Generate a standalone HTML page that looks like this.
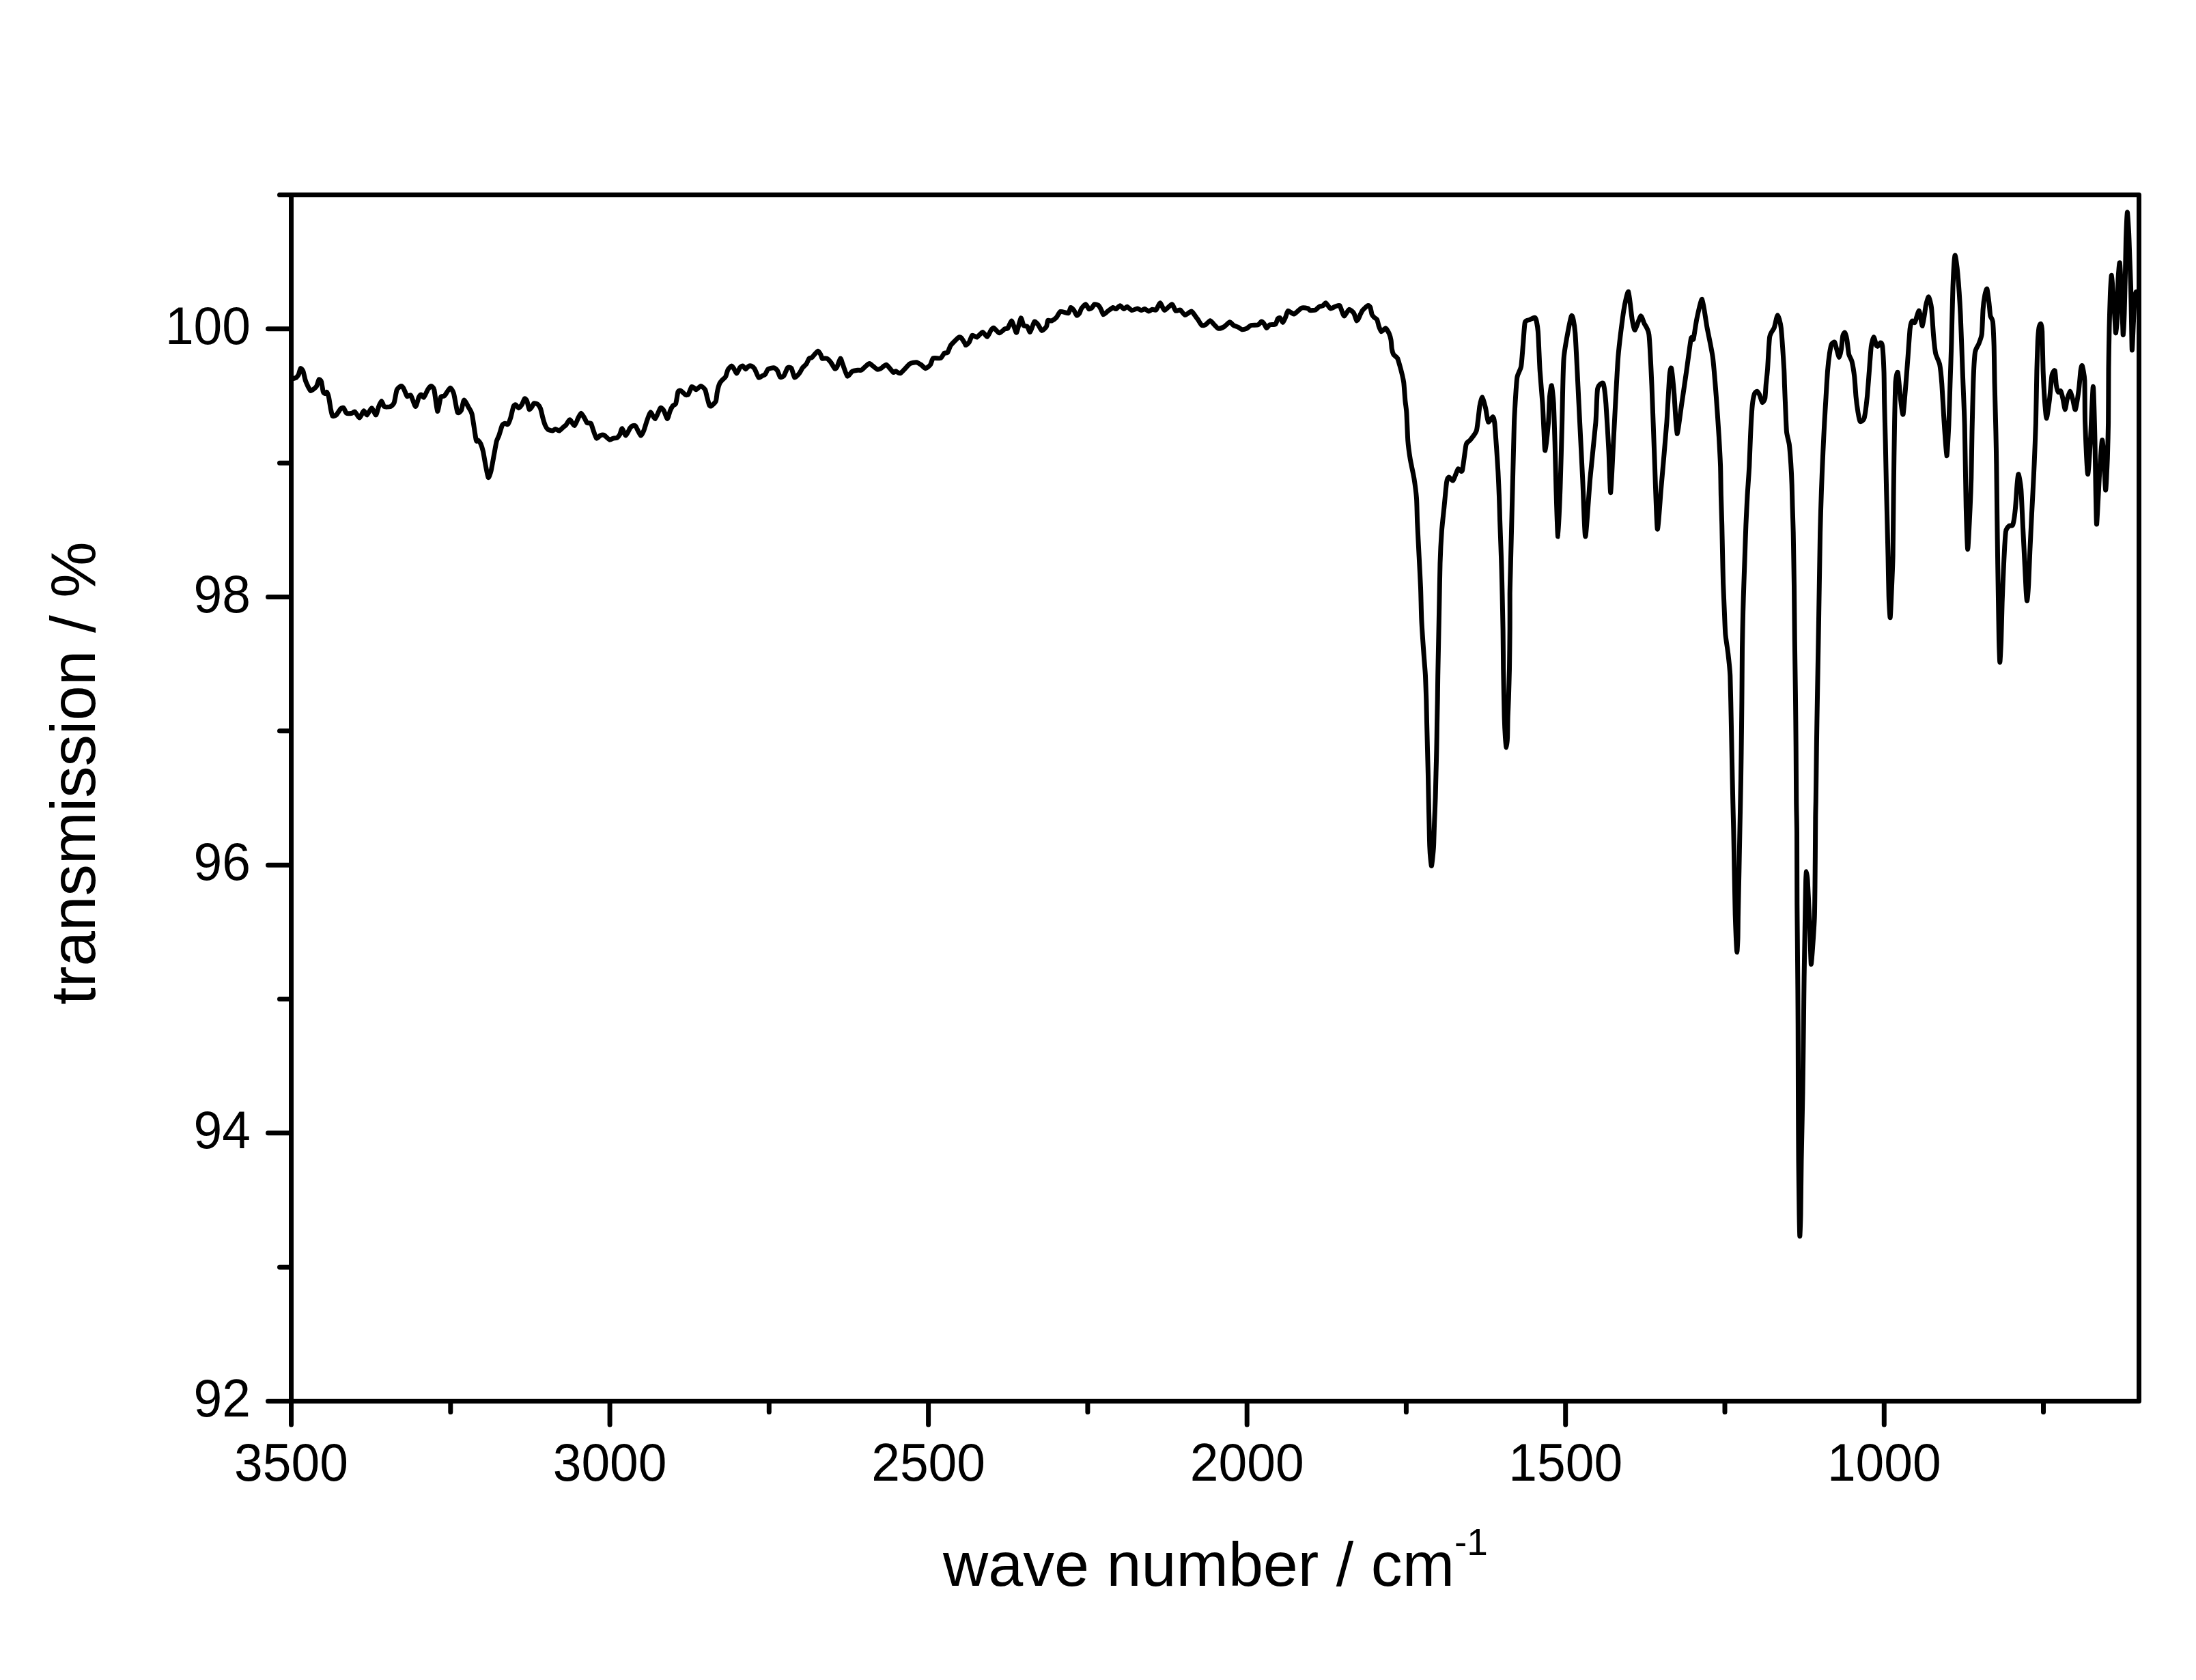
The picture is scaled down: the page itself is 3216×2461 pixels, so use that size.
<!DOCTYPE html><html><head><meta charset="utf-8"><style>html,body{margin:0;padding:0;background:#fff;}svg{display:block;}</style></head><body>
<svg width="3216" height="2461" viewBox="0 0 3216 2461">
<rect x="0" y="0" width="3216" height="2461" fill="#fff"/>
<path d="M429.6 554.6 C430.0 554.5 432.9 553.8 433.7 553.3 C434.4 552.7 436.4 550.5 437.1 549.2 C437.7 547.8 439.5 540.2 440.2 539.6 C440.9 539.1 443.2 541.9 443.9 543.7 C444.6 545.5 446.6 555.1 447.3 557.4 C448.1 559.7 450.7 565.4 451.4 566.9 C452.2 568.4 454.0 572.1 454.8 572.4 C455.7 572.7 458.7 570.4 459.6 569.7 C460.5 569.0 463.0 566.9 463.7 565.6 C464.5 564.2 466.4 556.7 467.1 556.0 C467.8 555.3 469.9 557.0 470.5 558.7 C471.2 560.5 472.7 572.0 473.3 573.8 C473.8 575.5 475.5 576.4 476.0 576.5 C476.6 576.6 478.2 573.9 478.7 574.5 C479.3 575.0 480.9 579.6 481.5 582.0 C482.0 584.4 483.7 595.6 484.2 598.4 C484.8 601.1 486.1 608.3 486.9 609.3 C487.8 610.2 491.2 609.0 492.4 607.9 C493.6 606.8 498.1 599.4 499.2 598.4 C500.3 597.3 502.5 597.0 503.3 597.7 C504.2 598.4 506.2 604.4 507.4 605.2 C508.7 605.9 514.4 605.4 515.6 605.2 C516.9 605.0 518.6 602.5 519.7 603.1 C520.8 603.8 525.3 612.2 526.6 612.0 C527.9 611.9 531.6 602.2 532.7 601.8 C533.8 601.4 536.3 608.3 537.5 607.9 C538.6 607.5 543.0 597.7 544.3 597.7 C545.6 597.7 549.4 608.1 550.5 607.9 C551.5 607.7 553.7 597.7 554.6 595.6 C555.4 593.6 557.8 587.4 558.7 587.4 C559.5 587.4 561.5 594.8 562.8 595.6 C564.1 596.4 570.2 596.2 571.6 595.6 C573.1 595.1 576.1 592.6 577.1 590.2 C578.1 587.7 580.2 573.5 581.2 571.0 C582.2 568.6 586.3 565.7 587.3 565.6 C588.4 565.4 590.6 568.2 591.4 569.7 C592.3 571.2 595.2 579.6 596.2 580.6 C597.3 581.6 600.5 577.7 601.7 579.2 C602.9 580.7 607.4 595.4 608.5 595.6 C609.7 595.9 612.5 583.7 613.3 582.0 C614.1 580.2 616.0 577.9 616.7 577.9 C617.5 577.9 619.9 582.7 620.8 582.0 C621.8 581.3 625.3 572.7 626.3 571.0 C627.3 569.4 630.1 565.6 631.1 565.6 C632.0 565.6 634.9 567.3 635.8 571.0 C636.8 574.7 639.7 601.4 640.6 602.5 C641.6 603.6 644.4 584.2 645.4 582.0 C646.4 579.7 649.5 581.3 650.9 579.9 C652.2 578.6 657.7 568.6 659.1 568.3 C660.4 568.0 663.4 573.0 664.5 576.5 C665.6 580.1 668.9 601.4 670.0 603.8 C671.1 606.3 674.5 602.9 675.5 601.1 C676.4 599.3 678.5 586.5 679.6 586.1 C680.7 585.7 685.2 594.9 686.4 597.0 C687.6 599.0 690.1 601.8 691.2 606.6 C692.3 611.3 696.4 641.0 697.3 644.8 C698.2 648.6 699.3 644.3 700.0 644.8 C700.7 645.4 703.3 648.6 704.1 650.3 C704.8 651.9 706.8 658.2 707.5 661.2 C708.2 664.2 710.2 676.5 710.9 680.3 C711.7 684.2 714.2 698.5 715.0 699.5 C715.8 700.4 718.2 693.4 719.1 689.9 C720.0 686.3 723.1 668.3 723.9 663.9 C724.7 659.6 726.6 648.8 727.3 646.2 C728.0 643.6 729.9 640.3 730.7 638.0 C731.6 635.7 734.6 624.7 735.5 623.0 C736.4 621.2 738.8 620.4 739.6 620.2 C740.4 620.1 742.9 622.4 743.7 621.6 C744.5 620.8 747.0 614.6 747.8 612.0 C748.6 609.4 751.2 597.5 751.9 595.6 C752.7 593.7 754.6 592.7 755.3 592.9 C756.1 593.1 758.5 597.7 759.4 597.7 C760.3 597.7 763.3 594.3 764.2 592.9 C765.1 591.5 767.6 584.6 768.3 584.0 C769.1 583.5 771.0 585.9 771.7 587.4 C772.4 589.0 774.4 598.9 775.1 599.7 C775.9 600.5 778.6 596.5 779.2 595.6 C779.9 594.7 781.1 591.2 782.0 590.8 C782.8 590.5 786.5 591.5 787.4 592.2 C788.4 593.0 790.8 596.4 791.5 598.4 C792.3 600.3 794.3 609.6 794.9 612.0 C795.6 614.5 797.6 621.2 798.4 623.0 C799.1 624.7 801.4 628.3 802.5 629.1 C803.6 629.9 808.2 631.2 809.3 631.1 C810.4 631.1 812.4 628.4 813.4 628.4 C814.3 628.4 817.8 631.4 818.9 631.1 C819.9 630.9 823.3 627.3 824.3 626.4 C825.3 625.5 828.1 623.4 829.1 622.3 C830.1 621.1 833.3 614.6 834.6 614.8 C835.8 614.9 840.2 623.9 841.4 623.6 C842.6 623.4 845.9 613.9 846.9 612.0 C847.8 610.2 850.1 605.2 851.0 605.2 C851.8 605.2 854.8 610.6 855.7 612.0 C856.6 613.5 858.9 618.7 859.8 619.5 C860.8 620.4 864.4 619.2 865.3 620.2 C866.2 621.2 867.9 627.6 868.7 629.8 C869.5 632.0 872.5 641.3 873.5 642.1 C874.5 642.9 877.9 638.5 879.0 638.0 C880.1 637.5 883.1 636.7 884.4 637.3 C885.8 637.9 891.3 643.6 892.6 644.1 C894.0 644.6 897.0 642.3 898.1 642.1 C899.2 641.8 902.6 641.9 903.6 641.4 C904.5 640.8 906.9 638.0 907.7 636.6 C908.4 635.2 910.2 627.6 911.1 627.7 C912.0 627.9 915.4 638.0 916.5 638.0 C917.7 637.9 921.7 628.5 922.7 627.0 C923.7 625.6 926.0 623.9 926.8 623.6 C927.6 623.4 929.7 622.9 930.9 624.3 C932.0 625.8 937.2 637.4 938.4 638.0 C939.6 638.5 942.2 632.1 943.2 629.8 C944.1 627.5 947.0 617.3 948.0 614.8 C948.9 612.2 951.6 604.0 952.7 603.8 C953.9 603.7 958.1 614.0 959.6 613.4 C961.0 612.8 965.8 598.9 967.1 597.7 C968.3 596.4 970.8 599.5 971.9 601.1 C972.9 602.7 976.4 613.3 977.3 613.4 C978.3 613.5 980.6 603.7 981.4 601.8 C982.2 599.9 984.7 595.3 985.5 594.3 C986.3 593.2 988.9 593.6 989.6 591.5 C990.4 589.5 992.3 575.7 993.0 573.8 C993.8 571.9 996.0 571.9 997.1 572.4 C998.2 572.9 1002.8 577.8 1003.9 578.4 C1005.0 578.9 1007.1 578.8 1008.0 577.7 C1008.9 576.5 1012.0 567.7 1012.8 566.7 C1013.6 565.8 1015.5 567.7 1016.2 568.1 C1016.9 568.5 1018.6 571.1 1019.6 570.8 C1020.6 570.6 1025.2 565.4 1026.4 565.4 C1027.7 565.4 1031.7 569.3 1032.6 570.8 C1033.5 572.4 1034.7 578.8 1035.3 581.1 C1035.9 583.3 1038.1 592.0 1038.7 593.4 C1039.4 594.8 1040.5 595.3 1041.5 594.8 C1042.4 594.2 1047.4 590.0 1048.3 587.9 C1049.2 585.9 1049.8 576.9 1050.4 574.3 C1050.9 571.7 1053.0 563.7 1053.8 562.0 C1054.5 560.2 1057.0 557.5 1057.9 556.5 C1058.8 555.5 1061.8 553.2 1062.7 551.7 C1063.5 550.2 1065.2 543.0 1066.1 541.5 C1067.0 539.9 1070.6 536.0 1071.5 536.0 C1072.5 536.0 1074.9 540.4 1075.6 541.5 C1076.4 542.6 1078.2 547.3 1079.0 546.9 C1079.9 546.6 1082.9 539.2 1083.8 538.1 C1084.7 537.0 1087.1 535.7 1087.9 536.0 C1088.7 536.3 1091.2 540.7 1092.0 540.8 C1092.8 540.9 1095.3 537.2 1096.1 536.7 C1096.9 536.2 1099.3 535.7 1100.2 536.0 C1101.1 536.4 1103.9 538.4 1105.0 540.1 C1106.1 541.8 1110.0 552.1 1111.1 553.1 C1112.3 554.1 1115.7 550.8 1116.6 550.4 C1117.6 549.9 1119.9 549.3 1120.7 548.3 C1121.5 547.3 1123.6 541.7 1124.8 540.8 C1126.0 539.8 1131.6 538.5 1133.0 538.7 C1134.4 538.9 1137.5 541.5 1138.5 542.8 C1139.4 544.2 1141.6 551.7 1142.6 552.4 C1143.5 553.2 1146.9 551.7 1148.0 550.4 C1149.1 549.0 1152.4 539.8 1153.5 538.7 C1154.6 537.7 1157.9 538.0 1159.0 539.4 C1160.0 540.9 1162.6 552.3 1163.7 553.1 C1164.9 553.8 1169.4 548.4 1170.6 546.9 C1171.7 545.5 1174.3 540.1 1175.4 538.7 C1176.4 537.4 1179.9 534.6 1180.8 533.3 C1181.8 531.9 1184.1 526.0 1184.9 525.1 C1185.7 524.1 1188.2 524.3 1189.0 523.7 C1189.8 523.1 1192.2 519.9 1193.1 518.9 C1194.0 518.0 1197.0 514.1 1197.9 514.2 C1198.8 514.2 1201.4 518.5 1202.0 519.6 C1202.6 520.7 1203.2 524.5 1204.0 525.1 C1204.9 525.6 1209.6 524.5 1210.9 525.1 C1212.2 525.7 1215.9 529.7 1217.0 531.2 C1218.2 532.7 1221.6 539.5 1222.5 540.1 C1223.4 540.7 1225.1 538.9 1225.9 537.4 C1226.7 535.9 1229.9 525.5 1230.7 525.1 C1231.5 524.7 1233.1 530.7 1234.1 533.3 C1235.1 535.9 1239.6 549.9 1240.9 551.0 C1242.3 552.1 1246.3 545.1 1247.8 544.2 C1249.3 543.3 1254.6 542.4 1256.0 542.2 C1257.3 542.0 1260.2 542.8 1261.4 542.2 C1262.7 541.5 1267.0 537.0 1268.3 536.0 C1269.5 535.1 1272.1 532.1 1273.7 532.6 C1275.3 533.1 1283.0 540.4 1284.6 541.1 C1286.2 541.8 1288.7 540.4 1290.1 539.7 C1291.4 539.0 1296.5 533.7 1298.3 534.3 C1300.0 534.8 1306.4 544.2 1307.8 545.2 C1309.2 546.1 1310.8 543.7 1311.9 543.8 C1313.0 544.0 1316.7 547.7 1318.7 546.6 C1320.8 545.5 1330.1 534.5 1332.4 532.9 C1334.7 531.3 1340.3 530.7 1342.0 530.8 C1343.6 531.0 1347.4 533.4 1348.8 534.3 C1350.2 535.2 1354.3 539.7 1355.6 539.7 C1357.0 539.7 1361.4 535.8 1362.5 534.3 C1363.6 532.8 1365.1 525.7 1366.6 524.7 C1368.1 523.7 1375.8 525.5 1377.5 524.7 C1379.1 523.9 1381.9 518.0 1383.0 517.2 C1384.0 516.4 1386.8 517.7 1387.7 516.5 C1388.7 515.3 1390.9 507.8 1392.5 505.6 C1394.1 503.4 1401.9 495.7 1403.4 494.6 C1404.9 493.6 1406.6 493.8 1407.5 494.6 C1408.5 495.5 1412.3 501.7 1413.0 502.8 C1413.7 503.9 1413.8 505.7 1414.4 505.6 C1415.0 505.4 1418.2 502.9 1419.2 501.5 C1420.1 500.0 1422.8 492.0 1423.9 491.2 C1425.1 490.5 1429.3 494.4 1430.8 494.0 C1432.3 493.5 1437.5 486.5 1439.0 486.4 C1440.5 486.4 1444.6 493.6 1445.8 493.3 C1447.0 493.0 1450.3 485.0 1451.3 483.7 C1452.2 482.4 1454.1 479.9 1455.4 480.3 C1456.6 480.7 1461.9 487.7 1463.6 487.8 C1465.2 488.0 1470.5 482.3 1471.7 481.7 C1473.0 481.0 1474.9 482.1 1475.8 481.0 C1476.8 479.8 1480.4 470.2 1481.3 470.1 C1482.3 469.9 1484.7 477.9 1485.4 479.6 C1486.2 481.3 1487.9 488.5 1488.8 487.1 C1489.8 485.8 1493.9 467.0 1495.0 466.0 C1496.0 464.9 1498.1 475.7 1499.1 476.9 C1500.0 478.1 1503.6 477.3 1504.5 478.3 C1505.5 479.2 1507.6 487.1 1508.6 486.4 C1509.7 485.8 1513.6 472.5 1514.8 471.4 C1515.9 470.3 1519.2 474.2 1520.2 475.5 C1521.3 476.8 1524.5 484.1 1525.7 484.4 C1526.9 484.7 1531.7 479.8 1532.5 478.3 C1533.4 476.7 1533.8 470.2 1534.6 469.4 C1535.3 468.6 1538.8 470.5 1540.1 470.1 C1541.3 469.6 1545.6 466.6 1546.9 465.3 C1548.2 463.9 1551.3 457.0 1553.0 456.4 C1554.8 455.7 1563.1 459.3 1564.6 458.7 C1566.1 458.2 1567.2 451.0 1568.0 450.5 C1568.8 450.1 1571.9 453.5 1572.8 454.6 C1573.7 455.8 1576.1 461.7 1576.9 462.2 C1577.7 462.6 1580.3 459.8 1581.0 458.7 C1581.7 457.7 1582.8 453.2 1583.7 451.9 C1584.6 450.6 1588.8 445.7 1589.9 445.8 C1591.0 445.8 1593.8 452.0 1594.6 452.6 C1595.5 453.1 1597.9 451.9 1598.7 451.2 C1599.6 450.5 1601.9 446.2 1602.8 445.8 C1603.8 445.4 1607.3 446.4 1608.3 447.1 C1609.3 447.9 1611.7 451.9 1612.4 453.3 C1613.2 454.6 1615.0 460.4 1615.8 460.8 C1616.6 461.2 1619.7 458.1 1620.6 457.4 C1621.5 456.7 1623.7 454.6 1624.7 454.0 C1625.7 453.3 1629.2 450.7 1630.2 450.5 C1631.1 450.4 1633.2 452.9 1634.3 452.6 C1635.3 452.3 1639.2 447.8 1640.4 447.8 C1641.6 447.8 1644.8 452.5 1645.9 452.6 C1646.9 452.7 1649.5 449.0 1650.7 449.2 C1651.8 449.4 1656.0 454.4 1657.5 454.6 C1659.0 454.9 1664.3 451.9 1665.7 451.9 C1667.0 451.9 1670.1 454.6 1671.1 454.6 C1672.2 454.7 1675.5 452.5 1676.6 452.6 C1677.7 452.7 1681.0 455.9 1682.1 456.0 C1683.2 456.1 1686.4 453.5 1687.5 453.3 C1688.6 453.1 1691.8 454.9 1693.0 454.0 C1694.2 453.0 1697.9 443.6 1699.2 443.7 C1700.4 443.8 1703.6 454.4 1705.3 454.6 C1707.0 454.8 1714.6 445.7 1716.2 445.8 C1717.9 445.8 1720.5 454.5 1721.7 455.3 C1722.9 456.1 1727.2 453.3 1728.5 454.0 C1729.9 454.6 1733.7 461.3 1735.4 461.5 C1737.0 461.7 1743.4 455.9 1744.9 456.0 C1746.4 456.1 1749.4 461.6 1750.4 462.8 C1751.3 464.1 1753.5 466.9 1754.5 468.3 C1755.4 469.7 1758.9 475.8 1759.9 476.5 C1761.0 477.3 1764.2 476.5 1765.4 475.8 C1766.6 475.1 1771.0 469.7 1772.2 469.7 C1773.5 469.6 1776.5 474.0 1777.7 475.1 C1778.9 476.3 1783.0 480.9 1784.5 481.3 C1786.0 481.6 1791.1 479.5 1792.7 478.6 C1794.4 477.6 1799.6 471.9 1800.9 471.7 C1802.3 471.5 1805.2 475.8 1806.4 476.5 C1807.6 477.3 1812.0 478.6 1813.2 479.2 C1814.5 479.8 1817.5 482.4 1818.7 482.7 C1819.9 482.9 1824.2 481.9 1825.5 481.3 C1826.9 480.7 1830.6 477.0 1832.3 476.5 C1834.1 476.0 1841.0 476.4 1842.5 475.8 C1844.0 475.3 1846.4 471.2 1847.3 471.0 C1848.2 470.9 1850.7 473.5 1851.4 474.5 C1852.2 475.4 1854.0 480.5 1854.8 480.6 C1855.7 480.7 1858.3 476.4 1859.6 475.8 C1860.9 475.3 1866.7 476.0 1867.8 475.1 C1869.0 474.2 1870.5 467.9 1871.2 466.9 C1871.9 466.0 1873.9 465.0 1874.6 465.6 C1875.4 466.1 1877.9 472.5 1878.7 472.4 C1879.6 472.3 1882.1 465.9 1882.8 464.2 C1883.6 462.5 1885.0 455.7 1886.3 455.3 C1887.5 454.9 1893.2 460.5 1895.1 460.1 C1897.1 459.7 1904.0 452.0 1906.1 451.2 C1908.1 450.4 1914.4 451.6 1915.6 451.9 C1916.9 452.3 1917.3 454.4 1918.4 454.6 C1919.5 454.8 1925.2 454.5 1926.6 454.0 C1927.9 453.4 1930.9 449.8 1932.0 449.2 C1933.1 448.6 1936.5 448.4 1937.5 447.8 C1938.4 447.3 1940.5 443.3 1941.6 443.7 C1942.7 444.1 1946.9 451.4 1948.4 451.9 C1949.9 452.4 1955.2 448.9 1956.6 448.5 C1958.0 448.1 1961.1 446.8 1962.1 447.8 C1963.0 448.8 1965.5 457.2 1966.2 458.7 C1966.9 460.2 1968.0 463.4 1968.9 462.8 C1969.9 462.3 1974.4 453.7 1975.7 453.3 C1977.1 452.9 1981.5 457.1 1982.6 458.7 C1983.7 460.4 1985.9 469.0 1986.7 469.7 C1987.4 470.4 1989.4 466.8 1990.0 465.8 C1990.6 464.8 1991.9 461.2 1992.5 460.0 C1993.1 458.8 1994.7 455.4 1995.8 454.2 C1996.9 452.9 2002.2 447.9 2003.3 447.5 C2004.4 447.1 2006.1 448.7 2006.7 450.0 C2007.3 451.3 2008.6 459.3 2009.2 460.8 C2009.8 462.3 2011.8 464.2 2012.5 465.0 C2013.2 465.8 2016.0 467.1 2016.7 468.3 C2017.4 469.6 2018.6 475.8 2019.2 477.5 C2019.8 479.2 2021.9 485.5 2022.9 485.8 C2023.9 486.1 2028.1 480.6 2029.2 480.8 C2030.3 481.1 2033.4 486.6 2034.2 488.3 C2035.0 490.1 2036.7 496.1 2037.1 498.3 C2037.5 500.6 2037.9 508.7 2038.3 510.8 C2038.7 512.9 2040.0 517.8 2040.8 519.2 C2041.6 520.6 2045.8 523.3 2046.7 525.0 C2047.6 526.7 2049.3 533.5 2050.0 535.8 C2050.7 538.1 2052.7 545.8 2053.3 548.3 C2053.9 550.8 2055.3 556.9 2055.8 560.8 C2056.3 564.7 2057.5 582.7 2057.9 587.1 C2058.3 591.5 2059.5 598.6 2059.9 604.4 C2060.3 610.2 2061.3 638.6 2061.8 645.5 C2062.3 652.4 2064.4 667.4 2065.3 672.9 C2066.2 678.4 2069.9 694.6 2070.8 700.3 C2071.7 706.0 2074.0 723.5 2074.5 730.0 C2075.0 736.5 2075.3 757.4 2075.7 765.7 C2076.1 774.0 2077.6 803.8 2078.1 813.3 C2078.6 822.8 2080.1 851.5 2080.5 861.0 C2080.9 870.5 2081.4 898.1 2081.9 908.6 C2082.4 919.1 2085.1 957.6 2085.7 965.7 C2086.3 973.8 2087.2 984.0 2087.5 990.0 C2087.8 996.0 2088.5 1018.6 2088.8 1025.7 C2089.0 1032.8 2089.4 1054.3 2089.6 1061.4 C2089.8 1068.5 2090.3 1089.8 2090.5 1097.0 C2090.7 1104.2 2091.2 1125.7 2091.4 1132.9 C2091.6 1140.1 2091.9 1161.5 2092.1 1168.6 C2092.2 1175.7 2092.7 1197.2 2092.9 1204.3 C2093.1 1211.4 2093.5 1234.6 2093.8 1240.0 C2094.0 1245.4 2094.7 1255.1 2095.0 1258.0 C2095.3 1260.9 2096.1 1268.6 2096.4 1268.6 C2096.7 1268.6 2097.6 1260.9 2097.9 1258.0 C2098.2 1255.1 2099.2 1245.4 2099.5 1240.0 C2099.8 1234.6 2100.4 1211.4 2100.7 1204.3 C2101.0 1197.2 2101.9 1175.7 2102.1 1168.6 C2102.3 1161.5 2102.8 1140.1 2103.0 1132.9 C2103.2 1125.7 2103.8 1104.2 2103.9 1097.0 C2104.1 1089.8 2104.4 1068.5 2104.5 1061.4 C2104.6 1054.3 2105.1 1032.8 2105.2 1025.7 C2105.3 1018.6 2105.4 1004.6 2105.7 990.0 C2106.0 975.4 2107.6 896.5 2107.9 880.0 C2108.2 863.5 2108.7 835.4 2109.0 825.2 C2109.3 815.0 2110.8 785.9 2111.4 777.6 C2112.0 769.3 2114.3 749.0 2115.0 741.9 C2115.7 734.8 2117.9 710.5 2118.6 706.2 C2119.3 701.9 2121.2 699.2 2122.1 699.0 C2123.0 698.8 2126.8 705.0 2128.1 703.8 C2129.4 702.6 2133.9 688.5 2135.2 687.1 C2136.5 685.7 2140.2 693.1 2141.4 689.5 C2142.6 685.9 2145.9 655.9 2147.1 651.4 C2148.2 646.9 2151.4 646.9 2152.9 644.8 C2154.4 642.7 2161.0 635.5 2162.4 630.5 C2163.8 625.5 2166.2 599.2 2167.1 594.3 C2168.0 589.4 2170.1 581.5 2171.0 581.9 C2171.9 582.3 2174.8 594.5 2175.7 598.1 C2176.5 601.7 2178.4 616.9 2179.5 618.1 C2180.6 619.3 2185.3 610.3 2186.2 610.5 C2187.1 610.7 2188.4 615.5 2188.9 620.0 C2189.4 624.5 2191.1 648.6 2191.6 655.7 C2192.1 662.8 2193.5 684.3 2193.9 691.4 C2194.3 698.5 2195.2 719.9 2195.5 727.0 C2195.8 734.1 2196.4 755.7 2196.6 762.9 C2196.8 770.1 2197.7 791.5 2197.9 798.6 C2198.2 805.7 2198.9 827.2 2199.1 834.3 C2199.3 841.4 2199.8 861.1 2200.0 870.0 C2200.2 878.9 2200.9 911.9 2201.1 922.9 C2201.3 933.9 2201.5 967.3 2201.7 980.0 C2201.9 992.7 2202.8 1040.0 2203.1 1050.0 C2203.4 1060.0 2204.2 1075.5 2204.5 1080.0 C2204.8 1084.5 2205.7 1095.0 2206.0 1095.0 C2206.3 1095.0 2207.4 1084.5 2207.6 1080.0 C2207.8 1075.5 2208.0 1055.7 2208.2 1050.0 C2208.4 1044.3 2209.1 1029.9 2209.3 1022.9 C2209.5 1015.9 2210.3 990.3 2210.5 980.0 C2210.7 969.7 2211.1 931.0 2211.2 920.0 C2211.3 909.0 2211.2 878.6 2211.2 870.0 C2211.3 861.4 2211.9 841.4 2212.1 834.3 C2212.3 827.2 2212.8 805.7 2213.0 798.6 C2213.2 791.5 2213.7 770.1 2213.9 762.9 C2214.1 755.7 2214.6 734.1 2214.8 727.0 C2215.0 719.9 2215.5 698.5 2215.7 691.4 C2215.9 684.3 2216.4 662.8 2216.6 655.7 C2216.8 648.6 2217.3 626.5 2217.5 620.0 C2217.7 613.5 2218.6 597.2 2219.0 590.4 C2219.4 583.6 2221.0 557.6 2221.9 552.3 C2222.8 547.0 2226.7 541.9 2227.6 537.1 C2228.5 532.3 2229.9 511.2 2230.5 504.7 C2231.1 498.2 2232.4 475.9 2233.3 472.3 C2234.2 468.7 2238.5 469.2 2240.0 468.5 C2241.5 467.8 2247.3 464.0 2248.5 465.7 C2249.7 467.4 2251.7 478.0 2252.4 485.7 C2253.1 493.4 2254.5 532.3 2255.2 542.8 C2255.9 553.3 2258.4 581.8 2259.0 590.4 C2259.6 599.0 2260.5 621.4 2260.9 628.4 C2261.3 635.4 2262.1 660.9 2262.8 659.9 C2263.5 658.9 2266.9 626.8 2267.6 618.9 C2268.3 611.0 2269.0 586.3 2269.5 580.9 C2270.0 575.5 2271.7 563.8 2272.3 564.7 C2272.9 565.7 2274.7 582.1 2275.2 590.4 C2275.7 598.7 2276.7 634.6 2277.1 647.5 C2277.5 660.4 2278.6 705.9 2279.0 719.8 C2279.4 733.6 2281.0 786.5 2281.6 786.0 C2282.2 785.5 2284.3 731.5 2284.9 714.8 C2285.5 698.1 2287.1 638.2 2287.6 619.0 C2288.1 599.8 2288.9 538.8 2290.3 523.2 C2291.7 507.6 2299.7 466.6 2301.3 463.0 C2303.0 459.4 2305.7 474.7 2306.8 487.6 C2307.9 500.5 2311.1 570.2 2312.2 591.6 C2313.3 613.0 2316.7 681.7 2317.7 701.1 C2318.7 720.5 2320.7 786.0 2321.8 786.0 C2322.9 786.0 2327.2 717.8 2328.7 701.1 C2330.2 684.4 2335.8 632.1 2336.9 619.0 C2338.0 605.9 2338.5 575.5 2339.6 569.7 C2340.7 564.0 2346.6 559.3 2347.8 561.5 C2349.0 563.7 2351.1 581.7 2351.9 591.6 C2352.7 601.5 2355.3 647.1 2356.0 660.1 C2356.7 673.1 2358.1 723.1 2358.8 721.7 C2359.5 720.3 2361.8 666.2 2362.9 646.4 C2364.0 626.5 2368.2 542.4 2369.7 523.2 C2371.2 504.0 2376.4 464.3 2377.9 454.7 C2379.4 445.1 2383.6 426.0 2384.8 427.4 C2386.0 428.8 2389.3 462.8 2390.3 468.4 C2391.3 474.0 2393.2 484.0 2394.4 483.5 C2395.6 483.0 2401.2 464.0 2402.6 463.0 C2404.0 462.0 2406.8 471.2 2408.0 473.9 C2409.2 476.6 2413.8 481.3 2414.9 490.3 C2416.0 499.3 2418.2 545.9 2419.0 564.2 C2419.8 582.5 2422.3 652.6 2423.1 673.7 C2423.9 694.8 2426.2 770.9 2427.2 775.0 C2428.2 779.1 2431.3 730.4 2432.7 714.8 C2434.1 699.2 2439.7 635.4 2440.9 619.0 C2442.1 602.6 2444.3 558.5 2445.0 550.6 C2445.7 542.7 2447.0 536.9 2447.7 539.6 C2448.4 542.3 2451.0 568.3 2451.8 577.9 C2452.6 587.5 2454.9 634.0 2456.0 635.4 C2457.1 636.8 2461.4 600.6 2462.8 591.6 C2464.2 582.6 2468.2 554.7 2469.6 545.1 C2471.0 535.5 2475.5 500.6 2476.5 495.8 C2477.5 491.0 2479.2 499.6 2480.0 496.7 C2480.8 493.8 2483.7 472.5 2485.0 466.7 C2486.3 460.9 2491.2 437.0 2492.7 438.3 C2494.2 439.6 2498.4 471.5 2500.0 480.0 C2501.6 488.5 2507.0 513.3 2508.3 523.3 C2509.6 533.3 2512.4 568.3 2513.3 580.0 C2514.2 591.7 2516.8 629.7 2517.4 640.0 C2518.0 650.3 2519.3 674.3 2519.6 682.9 C2519.9 691.5 2520.2 717.1 2520.4 725.7 C2520.6 734.3 2521.5 760.0 2521.7 768.6 C2521.9 777.2 2522.4 802.8 2522.6 811.4 C2522.8 820.0 2523.3 845.7 2523.6 854.3 C2523.9 862.9 2525.1 889.6 2525.4 897.1 C2525.7 904.6 2526.4 923.3 2526.9 929.3 C2527.4 935.3 2530.0 951.0 2530.7 957.1 C2531.4 963.2 2533.3 979.2 2533.8 990.0 C2534.2 1000.8 2535.2 1050.0 2535.5 1065.0 C2535.8 1080.0 2536.7 1125.0 2537.0 1140.0 C2537.3 1155.0 2538.4 1201.2 2538.8 1215.0 C2539.1 1228.8 2539.8 1265.0 2540.0 1277.5 C2540.2 1290.0 2541.0 1330.2 2541.2 1340.0 C2541.5 1349.8 2542.2 1369.5 2542.5 1375.0 C2542.8 1380.5 2543.5 1395.0 2543.8 1395.0 C2544.0 1395.0 2544.8 1380.5 2545.0 1375.0 C2545.2 1369.5 2545.3 1349.8 2545.5 1340.0 C2545.7 1330.2 2546.5 1290.0 2546.8 1277.5 C2547.0 1265.0 2547.7 1228.8 2548.0 1215.0 C2548.3 1201.2 2549.2 1155.0 2549.5 1140.0 C2549.8 1125.0 2550.3 1080.0 2550.5 1065.0 C2550.7 1050.0 2551.2 1001.5 2551.2 990.0 C2551.3 978.5 2551.4 959.3 2551.5 950.0 C2551.6 940.7 2552.4 906.7 2552.6 897.1 C2552.8 887.5 2553.6 862.9 2553.9 854.3 C2554.2 845.7 2555.1 820.0 2555.4 811.4 C2555.7 802.8 2556.5 777.2 2556.9 768.6 C2557.3 760.0 2558.5 734.3 2559.0 725.7 C2559.5 717.1 2561.4 691.5 2561.8 682.9 C2562.2 674.3 2563.1 648.9 2563.5 640.0 C2563.9 631.1 2565.6 600.5 2566.2 594.2 C2566.8 587.9 2568.6 579.3 2569.3 577.2 C2570.0 575.1 2572.4 573.1 2573.2 573.3 C2574.0 573.4 2576.2 577.1 2577.0 578.7 C2577.8 580.3 2580.1 589.0 2580.9 589.5 C2581.7 590.0 2584.3 585.9 2584.8 583.3 C2585.3 580.7 2585.9 567.5 2586.3 563.2 C2586.7 558.9 2588.1 547.0 2588.6 540.0 C2589.1 533.0 2590.7 499.3 2591.7 493.3 C2592.7 487.3 2597.1 483.2 2598.3 480.0 C2599.5 476.8 2602.3 461.7 2603.3 461.7 C2604.3 461.7 2607.4 472.2 2608.3 480.0 C2609.2 487.8 2612.1 531.7 2612.6 540.0 C2613.1 548.3 2613.2 557.0 2613.4 563.2 C2613.6 569.4 2614.7 594.9 2615.0 601.9 C2615.3 608.9 2616.0 627.9 2616.5 632.9 C2617.0 637.9 2619.8 646.9 2620.4 651.5 C2621.0 656.1 2622.3 673.4 2622.7 679.3 C2623.1 685.2 2624.0 704.1 2624.2 710.3 C2624.4 716.5 2624.8 734.2 2625.0 741.2 C2625.2 748.2 2625.9 768.2 2626.2 780.0 C2626.4 791.8 2627.3 843.0 2627.5 858.7 C2627.7 874.4 2628.1 921.7 2628.3 937.4 C2628.5 953.1 2629.2 1000.3 2629.4 1016.0 C2629.6 1031.7 2630.1 1079.1 2630.2 1094.8 C2630.3 1110.5 2630.6 1160.9 2630.7 1173.4 C2630.8 1185.9 2631.4 1204.8 2631.5 1220.0 C2631.6 1235.2 2631.7 1309.1 2631.8 1325.0 C2631.9 1340.9 2632.2 1366.1 2632.3 1378.6 C2632.4 1391.1 2632.8 1437.9 2632.9 1450.0 C2633.0 1462.1 2633.1 1485.0 2633.2 1500.0 C2633.3 1515.0 2633.4 1580.0 2633.5 1600.0 C2633.6 1620.0 2633.8 1682.0 2634.0 1700.0 C2634.2 1718.0 2634.8 1768.9 2635.0 1780.0 C2635.2 1791.1 2635.6 1811.0 2635.8 1811.0 C2636.0 1811.0 2636.8 1791.1 2637.0 1780.0 C2637.2 1768.9 2637.7 1718.0 2638.0 1700.0 C2638.3 1682.0 2639.7 1620.0 2640.0 1600.0 C2640.3 1580.0 2641.1 1516.8 2641.3 1500.0 C2641.5 1483.2 2641.9 1444.1 2642.1 1432.0 C2642.3 1419.9 2642.8 1389.3 2643.0 1378.6 C2643.2 1367.9 2643.7 1333.9 2643.9 1325.0 C2644.1 1316.1 2644.4 1294.1 2644.6 1289.3 C2644.8 1284.5 2645.2 1276.8 2645.4 1276.8 C2645.7 1276.8 2646.7 1283.6 2647.1 1289.3 C2647.5 1295.0 2648.9 1325.0 2649.3 1333.9 C2649.7 1342.8 2650.8 1370.7 2651.1 1378.6 C2651.4 1386.5 2652.0 1411.6 2652.3 1412.5 C2652.7 1413.4 2654.1 1394.5 2654.6 1387.5 C2655.1 1380.5 2657.0 1351.9 2657.3 1342.9 C2657.6 1334.0 2657.9 1306.9 2658.0 1298.0 C2658.1 1289.1 2658.3 1263.4 2658.4 1253.6 C2658.5 1243.8 2658.7 1208.0 2658.8 1200.0 C2658.8 1192.0 2659.1 1183.9 2659.3 1173.4 C2659.5 1162.9 2660.1 1110.5 2660.3 1094.8 C2660.5 1079.1 2661.3 1031.7 2661.6 1016.0 C2661.9 1000.3 2662.7 953.1 2663.0 937.4 C2663.3 921.7 2664.0 874.4 2664.3 858.7 C2664.6 843.0 2665.3 793.9 2665.6 780.0 C2665.9 766.1 2667.0 731.6 2667.4 720.0 C2667.8 708.4 2669.2 673.6 2669.7 663.5 C2670.1 653.4 2671.5 627.1 2671.9 618.9 C2672.3 610.7 2673.7 589.2 2674.1 581.7 C2674.5 574.2 2675.9 550.8 2676.4 544.4 C2676.9 538.0 2678.8 521.6 2679.4 517.6 C2680.0 513.6 2681.6 505.8 2682.3 504.2 C2683.0 502.6 2686.1 500.6 2686.8 501.3 C2687.6 502.1 2689.1 509.5 2689.8 511.7 C2690.5 513.9 2692.8 523.6 2693.5 523.6 C2694.2 523.6 2696.0 514.8 2696.5 511.7 C2697.0 508.6 2698.2 494.8 2698.7 492.3 C2699.2 489.8 2701.1 486.7 2701.7 487.1 C2702.3 487.6 2704.1 493.6 2704.7 496.8 C2705.3 500.0 2706.9 515.8 2707.6 519.1 C2708.3 522.4 2711.3 526.3 2712.1 529.6 C2712.9 532.9 2715.2 546.7 2715.8 551.9 C2716.4 557.1 2717.6 576.5 2718.1 581.7 C2718.6 586.9 2720.4 600.4 2721.0 604.0 C2721.6 607.6 2723.1 616.5 2724.0 617.4 C2724.9 618.3 2729.0 616.5 2730.0 612.9 C2731.0 609.3 2733.7 588.6 2734.4 581.7 C2735.1 574.9 2736.8 551.9 2737.4 544.4 C2738.0 536.9 2739.7 512.3 2740.4 507.2 C2741.1 502.1 2743.4 493.9 2744.1 493.8 C2744.8 493.7 2747.2 504.4 2747.8 505.7 C2748.4 507.0 2749.5 507.6 2750.1 507.2 C2750.7 506.8 2753.1 502.0 2753.8 502.0 C2754.5 502.0 2756.3 503.0 2756.8 507.2 C2757.3 511.4 2758.7 536.2 2759.0 544.4 C2759.3 552.6 2759.5 578.7 2759.7 589.1 C2759.9 599.5 2760.9 635.5 2761.2 648.6 C2761.5 661.7 2762.3 703.4 2762.7 720.0 C2763.1 736.6 2764.7 798.9 2765.0 814.3 C2765.3 829.7 2765.9 864.8 2766.2 873.8 C2766.5 882.8 2767.7 904.8 2768.1 904.8 C2768.5 904.8 2769.4 882.8 2769.8 873.8 C2770.2 864.8 2771.8 829.7 2772.1 814.3 C2772.4 798.9 2772.8 739.5 2773.1 720.0 C2773.3 700.5 2774.3 635.0 2774.6 618.9 C2774.9 602.8 2775.6 566.6 2776.1 559.3 C2776.6 552.0 2778.6 543.1 2779.3 545.8 C2780.1 548.5 2782.8 580.4 2783.6 586.5 C2784.4 592.6 2786.3 609.4 2787.1 607.0 C2787.8 604.6 2790.4 570.9 2791.1 562.4 C2791.8 553.9 2793.6 530.1 2794.2 522.0 C2794.8 513.9 2796.6 486.7 2797.2 481.5 C2797.8 476.3 2799.5 471.2 2800.2 470.3 C2800.9 469.4 2803.3 473.8 2804.3 472.3 C2805.3 470.8 2809.3 454.6 2810.4 455.1 C2811.5 455.6 2814.4 478.2 2815.4 477.4 C2816.4 476.6 2819.6 451.2 2820.5 447.0 C2821.4 442.8 2823.7 434.5 2824.5 434.9 C2825.3 435.3 2827.9 445.3 2828.6 451.0 C2829.3 456.7 2831.0 484.9 2831.6 491.6 C2832.2 498.3 2833.8 513.6 2834.7 517.9 C2835.6 522.1 2839.8 529.6 2840.7 534.1 C2841.6 538.6 2843.2 554.5 2843.8 562.4 C2844.4 570.3 2846.1 602.5 2846.8 613.0 C2847.5 623.5 2850.2 666.7 2850.9 667.7 C2851.6 668.7 2853.4 633.7 2853.9 623.2 C2854.4 612.7 2855.5 574.5 2855.9 562.4 C2856.3 550.2 2857.5 515.9 2857.9 501.7 C2858.3 487.5 2859.5 433.4 2860.0 420.7 C2860.5 407.9 2862.3 376.2 2863.0 374.2 C2863.7 372.2 2866.2 391.8 2867.0 400.5 C2867.8 409.2 2870.4 447.0 2871.1 461.2 C2871.8 475.4 2873.5 526.0 2874.1 542.2 C2874.7 558.4 2876.7 603.1 2877.2 623.2 C2877.7 643.3 2878.9 724.7 2879.3 742.9 C2879.8 761.1 2881.1 804.8 2881.7 804.8 C2882.3 804.8 2884.7 753.4 2885.2 742.9 C2885.7 732.4 2886.5 711.1 2886.8 700.0 C2887.1 688.9 2887.7 646.0 2888.0 632.1 C2888.3 618.2 2889.4 572.3 2889.8 560.7 C2890.2 549.1 2891.7 521.7 2892.5 516.0 C2893.3 510.3 2896.9 506.3 2897.9 503.6 C2898.9 500.9 2901.7 494.3 2902.3 489.3 C2902.9 484.3 2903.7 459.3 2904.1 453.6 C2904.5 447.9 2906.2 435.1 2906.8 432.1 C2907.4 429.1 2909.4 421.9 2910.0 423.2 C2910.6 424.4 2912.5 440.7 2913.0 444.6 C2913.5 448.5 2914.3 459.8 2914.8 462.5 C2915.3 465.2 2917.9 466.9 2918.4 471.4 C2918.9 475.9 2919.9 498.2 2920.2 507.1 C2920.5 516.0 2920.8 548.2 2921.1 560.7 C2921.4 573.2 2922.6 620.2 2922.9 632.1 C2923.2 644.0 2923.6 667.8 2923.8 680.0 C2924.0 692.2 2924.5 739.0 2924.7 753.7 C2924.9 768.5 2925.5 814.6 2925.7 827.5 C2925.9 840.4 2926.4 871.8 2926.6 882.8 C2926.8 893.8 2927.3 929.2 2927.5 938.0 C2927.7 946.8 2928.5 970.3 2928.8 970.3 C2929.1 970.3 2930.3 946.8 2930.6 938.0 C2930.9 929.2 2931.8 892.9 2932.1 882.8 C2932.4 872.7 2933.6 845.0 2934.0 836.7 C2934.4 828.4 2935.4 805.7 2935.8 799.8 C2936.2 793.9 2936.9 780.7 2937.6 777.7 C2938.2 774.8 2941.3 771.2 2942.3 770.3 C2943.3 769.4 2946.9 771.1 2947.8 768.5 C2948.7 765.9 2950.9 750.6 2951.5 744.5 C2952.1 738.4 2953.7 712.7 2954.2 707.7 C2954.7 702.7 2955.5 693.8 2956.1 694.7 C2956.7 695.6 2959.2 709.1 2959.8 716.9 C2960.4 724.6 2961.9 761.1 2962.5 772.2 C2963.1 783.3 2964.8 818.3 2965.3 827.5 C2965.8 836.7 2966.8 859.0 2967.1 864.3 C2967.4 869.5 2968.2 880.9 2968.6 880.0 C2969.0 879.1 2970.4 862.2 2970.8 855.1 C2971.2 848.0 2972.2 819.1 2972.7 809.0 C2973.2 798.9 2974.9 762.9 2975.4 753.7 C2975.9 744.5 2976.9 724.3 2977.3 716.9 C2977.7 709.5 2978.7 689.7 2979.1 680.0 C2979.5 670.3 2981.0 633.7 2981.4 620.0 C2981.8 606.3 2982.6 554.9 2982.9 542.9 C2983.2 530.9 2984.0 506.3 2984.3 500.0 C2984.6 493.7 2985.6 482.6 2986.0 480.0 C2986.4 477.4 2988.1 473.7 2988.6 474.3 C2989.1 474.9 2990.3 478.8 2990.7 485.7 C2991.0 492.6 2991.7 532.9 2992.1 542.9 C2992.5 552.9 2993.8 578.7 2994.3 585.7 C2994.8 592.7 2996.4 612.9 2997.1 612.9 C2997.8 612.9 3000.6 592.0 3001.4 585.7 C3002.2 579.4 3004.2 554.3 3005.0 550.0 C3005.8 545.7 3008.7 541.5 3009.3 542.9 C3009.9 544.3 3010.9 561.2 3011.4 564.3 C3011.9 567.4 3013.7 573.4 3014.3 574.3 C3015.0 575.2 3017.2 571.8 3017.9 572.9 C3018.6 574.0 3020.8 583.0 3021.4 585.7 C3022.0 588.4 3023.7 600.0 3024.3 600.0 C3024.9 600.0 3026.4 588.4 3027.1 585.7 C3027.8 583.0 3030.5 572.9 3031.4 572.9 C3032.3 572.9 3034.9 583.0 3035.7 585.7 C3036.5 588.4 3038.4 601.4 3039.3 600.0 C3040.2 598.6 3043.5 577.1 3044.3 571.4 C3045.1 565.7 3046.6 546.5 3047.1 542.9 C3047.6 539.3 3048.7 534.3 3049.3 535.7 C3049.9 537.1 3052.5 548.8 3052.9 557.1 C3053.3 565.4 3053.1 604.9 3053.6 618.6 C3054.1 632.3 3056.7 691.9 3057.5 694.5 C3058.3 697.1 3060.6 657.6 3061.4 644.8 C3062.2 632.0 3064.7 566.2 3065.4 566.2 C3066.1 566.2 3067.6 629.1 3068.0 644.8 C3068.4 660.5 3069.0 711.0 3069.3 723.3 C3069.6 735.6 3070.1 770.5 3070.6 767.9 C3071.1 765.3 3073.7 709.5 3074.5 697.2 C3075.3 684.9 3077.8 647.4 3078.5 644.8 C3079.2 642.2 3080.6 663.7 3081.1 671.0 C3081.6 678.3 3083.2 718.1 3083.7 718.1 C3084.2 718.1 3085.9 681.0 3086.3 671.0 C3086.7 661.0 3087.4 631.7 3087.6 618.6 C3087.8 605.5 3087.9 553.9 3088.0 540.0 C3088.1 526.1 3088.8 491.0 3089.0 480.0 C3089.2 469.0 3090.2 437.7 3090.5 430.0 C3090.8 422.3 3091.9 402.6 3092.4 403.3 C3092.9 404.0 3094.7 429.8 3095.2 437.0 C3095.7 444.2 3097.3 469.9 3097.6 475.0 C3097.9 480.1 3098.3 489.5 3098.6 487.6 C3098.9 485.7 3100.7 463.9 3101.0 456.0 C3101.3 448.1 3101.7 416.1 3102.0 409.0 C3102.3 401.9 3103.8 382.9 3104.3 384.8 C3104.8 386.7 3106.3 419.0 3106.7 428.0 C3107.1 437.0 3108.3 468.8 3108.6 475.0 C3108.9 481.2 3109.1 492.0 3109.3 490.5 C3109.5 489.0 3110.7 469.1 3111.0 460.0 C3111.3 450.9 3112.2 411.0 3112.5 400.0 C3112.8 389.0 3113.2 358.9 3113.5 350.0 C3113.8 341.1 3115.0 312.0 3115.4 311.0 C3115.8 310.0 3117.1 333.1 3117.5 340.0 C3117.9 346.9 3118.7 372.0 3119.0 380.0 C3119.3 388.0 3120.2 411.0 3120.5 420.0 C3120.8 429.0 3121.3 460.7 3121.5 470.0 C3121.7 479.3 3122.1 513.0 3122.4 513.0 C3122.7 513.0 3124.1 477.3 3124.5 470.0 C3124.9 462.7 3125.7 444.2 3126.0 440.0 C3126.3 435.8 3127.6 429.2 3128.0 428.0 C3128.4 426.8 3129.8 428.0 3130.0 428.0" fill="none" stroke="#000" stroke-width="7" stroke-linejoin="round" stroke-linecap="round"/>
<path d="M426.5 2052.5 L426.5 2087.0 M659.8 2052.5 L659.8 2068.5 M893.1 2052.5 L893.1 2087.0 M1126.3 2052.5 L1126.3 2068.5 M1359.6 2052.5 L1359.6 2087.0 M1592.9 2052.5 L1592.9 2068.5 M1826.2 2052.5 L1826.2 2087.0 M2059.4 2052.5 L2059.4 2068.5 M2292.7 2052.5 L2292.7 2087.0 M2526.0 2052.5 L2526.0 2068.5 M2759.3 2052.5 L2759.3 2087.0 M2992.5 2052.5 L2992.5 2068.5 M426.5 2052.5 L392.5 2052.5 M426.5 1856.2 L409.5 1856.2 M426.5 1659.8 L392.5 1659.8 M426.5 1463.5 L409.5 1463.5 M426.5 1267.2 L392.5 1267.2 M426.5 1070.8 L409.5 1070.8 M426.5 874.5 L392.5 874.5 M426.5 678.2 L409.5 678.2 M426.5 481.8 L392.5 481.8 M426.5 285.5 L409.5 285.5" fill="none" stroke="#000" stroke-width="7" stroke-linecap="round"/>
<rect x="426.5" y="285.5" width="2706.0" height="1767.0" fill="none" stroke="#000" stroke-width="7" stroke-linejoin="round"/>
<text transform="translate(426.5 2168.6) scale(1 1.044)" font-family="Liberation Sans, sans-serif" font-size="75" text-anchor="middle">3500</text>
<text transform="translate(893.1 2168.6) scale(1 1.044)" font-family="Liberation Sans, sans-serif" font-size="75" text-anchor="middle">3000</text>
<text transform="translate(1359.6 2168.6) scale(1 1.044)" font-family="Liberation Sans, sans-serif" font-size="75" text-anchor="middle">2500</text>
<text transform="translate(1826.2 2168.6) scale(1 1.044)" font-family="Liberation Sans, sans-serif" font-size="75" text-anchor="middle">2000</text>
<text transform="translate(2292.7 2168.6) scale(1 1.044)" font-family="Liberation Sans, sans-serif" font-size="75" text-anchor="middle">1500</text>
<text transform="translate(2759.3 2168.6) scale(1 1.044)" font-family="Liberation Sans, sans-serif" font-size="75" text-anchor="middle">1000</text>
<text transform="translate(367 2074.5) scale(1 1.044)" font-family="Liberation Sans, sans-serif" font-size="75" text-anchor="end">92</text>
<text transform="translate(367 1681.8) scale(1 1.044)" font-family="Liberation Sans, sans-serif" font-size="75" text-anchor="end">94</text>
<text transform="translate(367 1289.2) scale(1 1.044)" font-family="Liberation Sans, sans-serif" font-size="75" text-anchor="end">96</text>
<text transform="translate(367 896.5) scale(1 1.044)" font-family="Liberation Sans, sans-serif" font-size="75" text-anchor="end">98</text>
<text transform="translate(367 503.8) scale(1 1.044)" font-family="Liberation Sans, sans-serif" font-size="75" text-anchor="end">100</text>
<text x="1381" y="2323" font-family="Liberation Sans, sans-serif" font-size="91.7">wave number / cm</text>
<text x="2130" y="2278" font-family="Liberation Sans, sans-serif" font-size="55">-1</text>
<text transform="translate(138.5 1472) rotate(-90)" x="0" y="0" font-family="Liberation Sans, sans-serif" font-size="92.5">transmission / %</text>
</svg></body></html>
